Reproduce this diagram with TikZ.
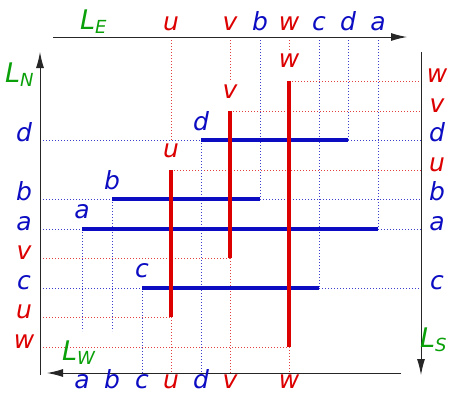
\documentclass[tikz,border=0pt]{standalone}
\usepackage{fontspec}
\setmainfont{DejaVu Sans}
\usetikzlibrary{arrows.meta}
\definecolor{cb}{RGB}{12,12,195}
\definecolor{cr}{RGB}{220,0,0}
\definecolor{cg}{RGB}{10,160,10}
\tikzset{
  lbl/.style={font=\fontsize{25}{29}\selectfont\itshape, inner sep=0pt, anchor=base},
  bl/.style={lbl, text=cb},
  rl/.style={lbl, text=cr},
  gl/.style={lbl, font=\fontsize{27}{31}\selectfont\itshape, text=cg, anchor=base west},
  bseg/.style={draw=cb, line width=3.2pt},
  rseg/.style={draw=cr, line width=3.2pt},
  bdot/.style={draw=cb!80, line width=1pt, dash pattern=on 1pt off 2pt},
  rdot/.style={draw=cr!75, line width=1pt, dash pattern=on 1pt off 2pt},
  axis/.style={draw=black!85, line width=1pt, -{Latex[length=16pt,width=8pt]}},
}
\newcommand{\subtxt}[1]{\raisebox{-4pt}{\fontsize{18}{21}\selectfont #1}}
\begin{document}
\begin{tikzpicture}[x=1pt,y=-1pt]
\useasboundingbox (0,0) rectangle (451,394);
% segment endpoints
\coordinate (dL) at (201,140); \coordinate (dR) at (348,140);
\coordinate (bL) at (112,199); \coordinate (bR) at (260,199);
\coordinate (aL) at (82,229);  \coordinate (aR) at (378,229);
\coordinate (cL) at (142,288); \coordinate (cR) at (319,288);
\coordinate (uT) at (171,170); \coordinate (uB) at (171,317);
\coordinate (vT) at (230,111); \coordinate (vB) at (230,258);
\coordinate (wT) at (289,81);  \coordinate (wB) at (289,347);
% axes ends
\coordinate (N0) at (40,375);  \coordinate (N1) at (40,52);
\coordinate (E0) at (53,37);   \coordinate (E1) at (407,37);
\coordinate (W0) at (401,373); \coordinate (W1) at (47,373);
\coordinate (S0) at (421,52);  \coordinate (S1) at (421,375);
\coordinate (stub) at (0,331);
% dotted guides: top
\draw[rdot] (uT |- E0) -- ([yshift=30pt]uT);
\draw[rdot] (vT |- E0) -- ([yshift=30pt]vT);
\draw[rdot] (wT |- E0) -- ([yshift=30pt]wT);
\draw[bdot] (bR |- E0) -- (bR);
\draw[bdot] (cR |- E0) -- (cR);
\draw[bdot] (dR |- E0) -- (dR);
\draw[bdot] (aR |- E0) -- (aR);
% right
\draw[rdot] (wT) -- (wT -| S0);
\draw[rdot] (vT) -- (vT -| S0);
\draw[bdot] (dR) -- (dR -| S0);
\draw[rdot] (uT) -- (uT -| S0);
\draw[bdot] (bR) -- (bR -| S0);
\draw[bdot] (aR) -- (aR -| S0);
\draw[bdot] (cR) -- (cR -| S0);
% left
\draw[bdot] (dL -| N0) -- (dL);
\draw[bdot] (bL -| N0) -- (bL);
\draw[bdot] (aL -| N0) -- (aL);
\draw[rdot] (vB -| N0) -- (vB);
\draw[bdot] (cL -| N0) -- (cL);
\draw[rdot] (uB -| N0) -- (uB);
\draw[rdot] (wB -| N0) -- (wB);
% bottom
\draw[bdot] (aL) -- (aL |- stub);
\draw[bdot] (bL) -- (bL |- stub);
\draw[bdot] (cL) -- (cL |- W0);
\draw[rdot] (uB) -- (uB |- W0);
\draw[bdot] (dL) -- (dL |- W0);
\draw[rdot] (vB) -- (vB |- W0);
\draw[rdot] (wB) -- (wB |- W0);
% axes
\draw[axis] (E0) -- (E1);
\draw[axis] (N0) -- (N1);
\draw[axis] (W0) -- (W1);
\draw[axis] (S0) -- (S1);
% segments
\draw[bseg] (dL) -- (dR);
\draw[bseg] (bL) -- (bR);
\draw[bseg] (aL) -- (aR);
\draw[bseg] (cL) -- (cR);
\draw[rseg] (uT) -- (uB);
\draw[rseg] (vT) -- (vB);
\draw[rseg] (wT) -- (wB);
% segment labels
\node[bl] (ld) at (201,130) {d};
\node[bl] (lb) at (112,189) {b};
\node[bl] (la) at (82,218) {a};
\node[bl] (lc) at (142,277) {c};
\node[rl] (lu) at (171,157) {u};
\node[rl] (lv) at (230,98) {v};
\node[rl] (lw) at (289,67) {w};
% top labels
\node[rl] (tu) at (171,30) {u};
\node[rl] (tv) at (230,30) {v};
\node[bl] (tb) at (260,30) {b};
\node[rl] (tw) at (289,30) {w};
\node[bl] (tc) at (319,30) {c};
\node[bl] (td) at (348,30) {d};
\node[bl] (ta) at (378,30) {a};
% bottom labels
\node[bl] (ba) at (82,388.5) {a};
\node[bl] (bb) at (112,388.5) {b};
\node[bl] (bc) at (142,388.5) {c};
\node[rl] (bu) at (171,388.5) {u};
\node[bl] (bd) at (201,388.5) {d};
\node[rl] (bv) at (230,388.5) {v};
\node[rl] (bw) at (289,388.5) {w};
% left labels
\node[bl] (ld2) at (24,141.5) {d};
\node[bl] (lb2) at (24,200.5) {b};
\node[bl] (la2) at (24,230.5) {a};
\node[rl] (lv2) at (24,259.5) {v};
\node[bl] (lc2) at (24,289.5) {c};
\node[rl] (lu2) at (24,318.5) {u};
\node[rl] (lw2) at (24,348.5) {w};
% right labels
\node[rl] (rw) at (437,82) {w};
\node[rl] (rv) at (437,112) {v};
\node[bl] (rd) at (437,141) {d};
\node[rl] (ru) at (437,171) {u};
\node[bl] (rb) at (437,200) {b};
\node[bl] (ra) at (437,230) {a};
\node[bl] (rc) at (437,289) {c};
% axis names
\node[gl] (LE) at (80,29) {L\subtxt{E}};
\node[gl] (LN) at (5,82) {L\subtxt{N}};
\node[gl] (LW) at (62,360) {L\subtxt{W}};
\node[gl] (LS) at (420,347) {L\subtxt{S}};
\end{tikzpicture}
\end{document}
